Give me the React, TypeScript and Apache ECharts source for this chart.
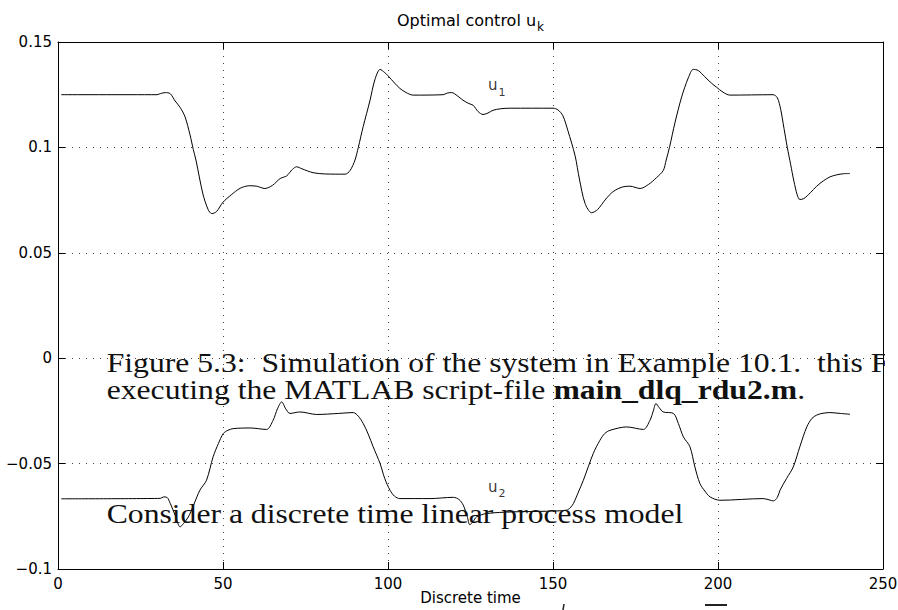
import React, { useEffect, useRef } from 'react';
import * as echarts from 'echarts';

// ---- data ----
const xTickValues = [0, 50, 100, 150, 200, 250];
const yTickValues = [-0.1, -0.05, 0, 0.05, 0.1, 0.15];

const u1Points: [number, number][] = [
  [1, 0.125], [30, 0.125], [31, 0.1255], [32.5, 0.126], [34, 0.1255], [35.5, 0.122], [37, 0.119],
  [38.5, 0.1145], [40, 0.106], [41, 0.099], [41.8, 0.094], [43.9, 0.078], [45.5, 0.0705], [46.6, 0.0686],
  [48, 0.0695], [50, 0.074], [52.5, 0.0775], [55.2, 0.0806], [58, 0.0818], [60.2, 0.0816], [62.7, 0.0805],
  [65, 0.082], [67.3, 0.0852], [69.3, 0.0865], [71, 0.0895], [72.3, 0.0908], [74, 0.0898], [77.3, 0.088],
  [81, 0.0874], [87, 0.0873], [88.5, 0.089], [90, 0.094], [91, 0.1], [92.5, 0.11], [94.5, 0.122],
  [96, 0.132], [97.6, 0.137], [99, 0.1355], [100, 0.134], [102, 0.1305], [103.6, 0.128], [105.5, 0.126],
  [107.6, 0.1248], [116.7, 0.125], [118, 0.1258], [119.3, 0.126], [121, 0.1245], [122.7, 0.1224],
  [124.5, 0.1208], [125.8, 0.12], [127.3, 0.117], [128.8, 0.1156], [130.3, 0.1163], [131.8, 0.1176],
  [134, 0.1183], [137, 0.1186], [150, 0.1186], [151.5, 0.1178], [153, 0.115], [154.5, 0.108],
  [156.7, 0.096], [158, 0.085], [159.7, 0.0735], [161.7, 0.069], [163.5, 0.0705], [166, 0.0755],
  [168.2, 0.079], [171, 0.0812], [173.3, 0.0816], [176.4, 0.0805], [179, 0.0825], [181.4, 0.0857],
  [183.4, 0.089], [184.3, 0.094], [185.3, 0.1], [187, 0.112], [189, 0.124], [191, 0.133], [192.5, 0.137],
  [194, 0.1365], [196, 0.1335], [198, 0.1305], [199.6, 0.1285], [201.5, 0.1262], [203.6, 0.1248],
  [216.7, 0.125], [218, 0.1235], [219, 0.118], [220, 0.109], [221, 0.1], [222, 0.092], [223, 0.084],
  [224, 0.0775], [224.8, 0.0753], [226, 0.0757], [228, 0.0785], [229.9, 0.0816], [232, 0.0842],
  [233.9, 0.086], [236, 0.087], [238, 0.0875], [240, 0.0876],
];

const u2Points: [number, number][] = [
  [1, -0.0667], [31, -0.0665], [32, -0.0658], [33, -0.066], [34, -0.0688], [35.5, -0.0745], [37, -0.08],
  [38, -0.0785], [39.5, -0.0753], [41, -0.07], [43, -0.0626], [45, -0.0579], [47, -0.0468], [48.6, -0.0405],
  [50.1, -0.0357], [51.5, -0.0342], [53.1, -0.0334], [58.2, -0.0331], [63.2, -0.0338], [65.2, -0.0294],
  [66.5, -0.024], [67.8, -0.0207], [69, -0.024], [70.3, -0.0262], [73.3, -0.0255], [78.4, -0.0267],
  [85, -0.0262], [89.5, -0.0258], [91, -0.0275], [92.5, -0.031], [94, -0.036], [95.5, -0.042],
  [97.6, -0.05], [99, -0.057], [100.6, -0.0626], [102, -0.0655], [103.6, -0.0666], [112.7, -0.0666],
  [119.8, -0.066], [121.5, -0.067], [122.8, -0.0697], [124, -0.075], [124.8, -0.079], [125.8, -0.0775],
  [126.8, -0.0753], [129.8, -0.0737], [137.9, -0.0729], [148, -0.0726], [154.1, -0.0721], [155.2, -0.071],
  [156.2, -0.0689], [157.7, -0.0635], [159.2, -0.0579], [162.2, -0.0452], [164.2, -0.039], [165.7, -0.0357],
  [167.3, -0.0342], [172.3, -0.0326], [177.4, -0.0338], [179.4, -0.0294], [180.4, -0.025], [181.2, -0.0215],
  [182.2, -0.0235], [183.4, -0.0255], [186.5, -0.0262], [188, -0.031], [189.5, -0.0373], [191.5, -0.042],
  [193, -0.0516], [194.5, -0.0594], [196, -0.063], [197.6, -0.0658], [200.6, -0.0674], [213.7, -0.0666],
  [215.5, -0.0672], [216.8, -0.0677], [218, -0.066], [218.8, -0.0626], [220.8, -0.057], [222.8, -0.0516],
  [224.8, -0.042], [226.9, -0.0326], [228.5, -0.0285], [229.9, -0.027], [231.5, -0.0262], [233.9, -0.0258],
  [237, -0.0262], [240, -0.0266],
];

const curveLabels = [
  { sub: '1', t: 130.3, v: 0.126 },
  { sub: '2', t: 130.3, v: -0.0645 },
];

const titleMain = 'Optimal control u';
const titleSub = 'k';
const xAxisName = 'Discrete time';
const captionLine1 = 'Figure 5.3:  Simulation of the system in Example 10.1.  this F';
const captionLine2a = 'executing the MATLAB script-file ';
const captionLine2b = 'main_dlq_rdu2.m';
const captionLine2c = '.';
const bodyLine = 'Consider a discrete time linear process model';

const SANS = '"DejaVu Sans", sans-serif';
const SERIF = '"Liberation Serif", serif';

function fmtY(v: number): string {
  const r = Math.round(v * 1000) / 1000;
  if (r === 0) return '0';
  const s = String(Math.abs(r));
  return (r < 0 ? '\u2212' : '') + s;
}

export default function App() {
  const ref = useRef<HTMLDivElement>(null);

  useEffect(() => {
    if (!ref.current) return;
    const chart = echarts.init(ref.current, undefined, { renderer: 'svg' });

    const subRich = {
      u: { fontFamily: SANS, fontSize: 15, lineHeight: 15, verticalAlign: 'top', color: '#000', fontWeight: 'normal' },
      s: { fontFamily: SANS, fontSize: 11, lineHeight: 11, padding: [9, 0, 0, 1], verticalAlign: 'top', color: '#000', fontWeight: 'normal' },
    };

    const axisCommonX = { type: 'value', min: 0, max: 250, interval: 50 };
    const axisCommonY = { type: 'value', min: -0.1, max: 0.15, interval: 0.05 };
    const boxLine = { show: true, onZero: false, lineStyle: { color: '#000', width: 1 } };
    const inTick = { show: true, inside: true, length: 7, lineStyle: { color: '#000', width: 1 } };
    const dotted = { show: true, lineStyle: { color: '#444', width: 1, type: [1, 6] } };

    const option: any = {
      animation: false,
      backgroundColor: '#fff',
      title: {
        text: `{a|${titleMain}}{b|${titleSub}}`,
        left: 397,
        top: 12,
        padding: 0,
        textStyle: {
          fontWeight: 'normal',
          rich: {
            a: { fontFamily: SANS, fontSize: 16, lineHeight: 17, verticalAlign: 'top', color: '#000', fontWeight: 'normal' },
            b: { fontFamily: SANS, fontSize: 12, lineHeight: 12, padding: [9, 0, 0, 1], verticalAlign: 'top', color: '#000', fontWeight: 'normal' },
          },
        },
      },
      grid: { left: 58, right: 15, top: 42, bottom: 41, containLabel: false, outerBoundsMode: 'none' },
      xAxis: [
        {
          ...axisCommonX,
          position: 'bottom',
          name: xAxisName,
          nameLocation: 'middle',
          nameGap: 21,
          nameMoveOverlap: false,
          nameTextStyle: { fontFamily: SANS, fontSize: 15, color: '#000', lineHeight: 15, verticalAlign: 'top' },
          axisLine: boxLine,
          axisTick: inTick,
          axisLabel: {
            show: true, margin: 7, fontFamily: SANS, fontSize: 15, color: '#000',
            alignMinLabel: 'center', alignMaxLabel: 'center', hideOverlap: false,
          },
          splitLine: dotted,
        },
        {
          ...axisCommonX,
          position: 'top',
          axisLine: boxLine,
          axisTick: inTick,
          axisLabel: { show: false },
          splitLine: { show: false },
        },
      ],
      yAxis: [
        {
          ...axisCommonY,
          position: 'left',
          axisLine: boxLine,
          axisTick: inTick,
          axisLabel: {
            show: true, margin: 6, fontFamily: SANS, fontSize: 15, color: '#000', formatter: fmtY,
            verticalAlignMinLabel: 'middle', verticalAlignMaxLabel: 'middle', hideOverlap: false,
          },
          splitLine: dotted,
        },
        {
          ...axisCommonY,
          position: 'right',
          axisLine: boxLine,
          axisTick: inTick,
          axisLabel: { show: false },
          splitLine: { show: false },
        },
      ],
      series: [
        {
          name: 'u1',
          type: 'line',
          data: u1Points,
          showSymbol: false,
          smooth: 0.3,
          lineStyle: { color: '#000', width: 1 },
          z: 5,
        },
        {
          name: 'u2',
          type: 'line',
          data: u2Points,
          showSymbol: false,
          smooth: 0.3,
          lineStyle: { color: '#000', width: 1 },
          z: 5,
        },
        {
          name: 'labels',
          type: 'scatter',
          symbolSize: 0,
          silent: true,
          data: curveLabels.map((l) => ({ value: [l.t, l.v], sub: l.sub })),
          label: {
            show: true,
            position: [0, 0],
            align: 'left',
            verticalAlign: 'bottom',
            color: '#000',
            formatter: (p: any) => `{u|u}{s|${p.data.sub}}`,
            rich: subRich,
          },
          z: 6,
        },
      ],
      graphic: [
        {
          type: 'text',
          x: 106.7,
          y: 362,
          scaleX: 1.131,
          z: 10,
          style: { text: captionLine1, fontFamily: SERIF, fontSize: 28, fill: '#111', verticalAlign: 'middle', align: 'left' },
        },
        {
          type: 'text',
          x: 106.7,
          y: 389.5,
          scaleX: 1.131,
          z: 10,
          style: {
            text: `{r|${captionLine2a}}{b|${captionLine2b}}{r|${captionLine2c}}`,
            verticalAlign: 'middle',
            align: 'left',
            rich: {
              r: { fontFamily: SERIF, fontSize: 28, fill: '#111' },
              b: { fontFamily: SERIF, fontSize: 28, fontWeight: 'bold', fill: '#111' },
            },
          },
        },
        {
          type: 'text',
          x: 106.7,
          y: 513.5,
          scaleX: 1.131,
          z: 10,
          style: { text: bodyLine, fontFamily: SERIF, fontSize: 28, fill: '#111', verticalAlign: 'middle', align: 'left' },
        },
        {
          type: 'rect',
          z: 20,
          shape: { x: 885, y: 340, width: 13, height: 50 },
          style: { fill: '#fff' },
        },
        {
          type: 'line',
          z: 20,
          shape: { x1: 564, y1: 604, x2: 563, y2: 610 },
          style: { stroke: '#222', lineWidth: 1.5 },
        },
        {
          type: 'rect',
          z: 20,
          shape: { x: 705, y: 604, width: 22, height: 2 },
          style: { fill: '#222' },
        },
      ],
    };

    chart.setOption(option);
    return () => chart.dispose();
  }, []);

  return (
    <div
      ref={ref}
      style={{ position: 'fixed', left: 0, top: 0, width: 898, height: 610, background: '#fff' }}
    />
  );
}
